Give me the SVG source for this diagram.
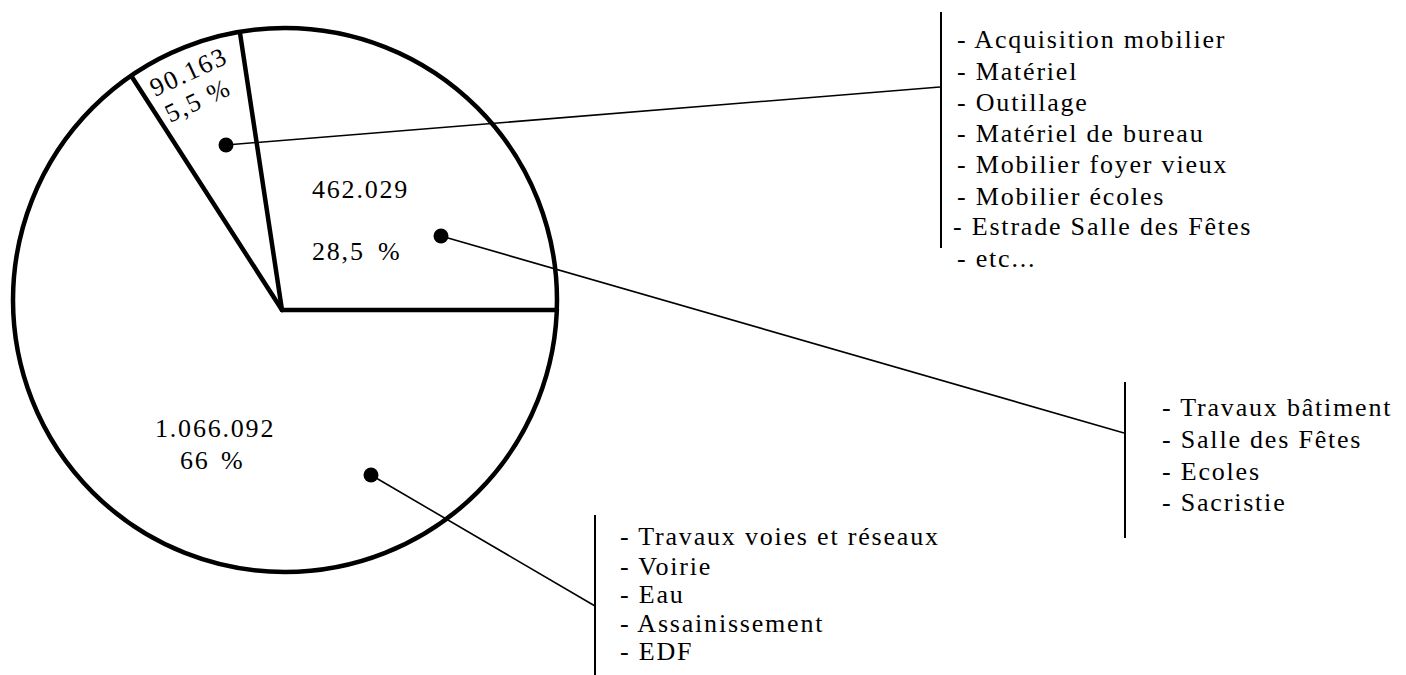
<svg xmlns="http://www.w3.org/2000/svg" width="1406" height="675" viewBox="0 0 1406 675">
<style>
.t{font-family:"Liberation Serif","Times New Roman",serif;font-size:26px;letter-spacing:1.8px;fill:#000}
.edge{stroke:#000;stroke-width:4.5;fill:none;stroke-linecap:round}
.conn{stroke:#000;stroke-width:1.6;fill:none}
.bar{stroke:#000;stroke-width:2;fill:none}
.dot{fill:#000}
</style>
<rect width="1406" height="675" fill="#fff"/>
<g id="pie">
<circle cx="285" cy="300" r="272" class="edge" stroke-width="4"/>
<line x1="282" y1="310" x2="557" y2="310" class="edge" stroke-width="5"/>
<line x1="282" y1="310" x2="240" y2="33" class="edge"/>
<line x1="282" y1="310" x2="132" y2="77" class="edge"/>
</g>
<g id="slice-mobilier">
<text class="t" transform="translate(155,97) rotate(-25)">90.163</text>
<text class="t" transform="translate(170,123) rotate(-25)">5,5 %</text>
<circle cx="226" cy="145" r="7.5" class="dot"/>
</g>
<g id="slice-batiment">
<text class="t" x="312" y="198">462.029</text>
<text class="t" x="312" y="260">28,5<tspan x="378">%</tspan></text>
<circle cx="441" cy="236" r="7.5" class="dot"/>
</g>
<g id="slice-voies">
<text class="t" x="155" y="437">1.066.092</text>
<text class="t" x="180" y="469">66<tspan x="221">%</tspan></text>
<circle cx="371" cy="475" r="7.5" class="dot"/>
</g>
<g id="connectors">
<line x1="226" y1="145" x2="940" y2="87" class="conn"/>
<line x1="441" y1="236" x2="1124" y2="433" class="conn"/>
<line x1="371" y1="475" x2="595" y2="606" class="conn"/>
</g>
<g id="list-mobilier">
<line x1="941" y1="12" x2="941" y2="248" class="bar"/>
<text class="t" x="957" y="48">- Acquisition mobilier</text>
<text class="t" x="957" y="80">- Matériel</text>
<text class="t" x="957" y="111">- Outillage</text>
<text class="t" x="957" y="142">- Matériel de bureau</text>
<text class="t" x="957" y="173">- Mobilier foyer vieux</text>
<text class="t" x="957" y="205">- Mobilier écoles</text>
<text class="t" x="953" y="235">- Estrade Salle des Fêtes</text>
<text class="t" x="957" y="267">- etc...</text>
</g>
<g id="list-batiment">
<line x1="1125" y1="382" x2="1125" y2="538" class="bar"/>
<text class="t" x="1162" y="416">- Travaux bâtiment</text>
<text class="t" x="1162" y="448">- Salle des Fêtes</text>
<text class="t" x="1162" y="480">- Ecoles</text>
<text class="t" x="1162" y="511">- Sacristie</text>
</g>
<g id="list-voies">
<line x1="595" y1="515" x2="595" y2="675" class="bar"/>
<text class="t" x="620" y="545">- Travaux voies et réseaux</text>
<text class="t" x="620" y="575">- Voirie</text>
<text class="t" x="620" y="603">- Eau</text>
<text class="t" x="620" y="632">- Assainissement</text>
<text class="t" x="620" y="660">- EDF</text>
</g>
</svg>
